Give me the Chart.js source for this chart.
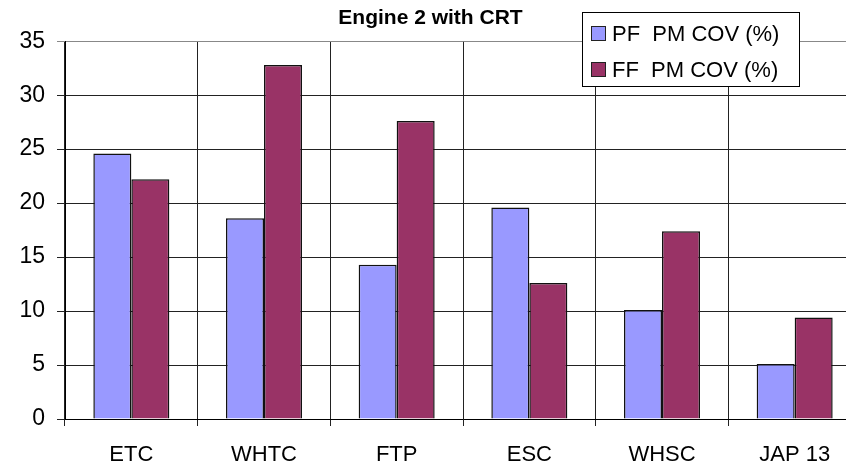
<!DOCTYPE html>
<html lang="en">
<head>
    <meta charset="UTF-8">
    <title>Engine 2 with CRT</title>
    <script src="https://cdn.jsdelivr.net/npm/chart.js"></script>
    <style>
        html, body { margin: 0; padding: 0; background: #fff; overflow: hidden; }
        #wrap { width: 878px; height: 470px; }
    </style>
</head>
<body>
    <div id="wrap">
        <canvas id="covChart" width="878" height="470"></canvas>
    </div>

    <script>
        // values
        const categories = ['ETC', 'WHTC', 'FTP', 'ESC', 'WHSC', 'JAP 13'];
        const pfCov = [24.6, 18.6, 14.3, 19.6, 10.1, 5.1];
        const ffCov = [22.2, 32.8, 27.6, 12.6, 17.4, 9.4];
        const seriesLabels = ['PF  PM COV (%)', 'FF  PM COV (%)'];
        const yMin = 0, yMax = 35, yStep = 5;

        const fontFamily = 'Arial, "Liberation Sans", Helvetica, sans-serif';

        // legend box sits on top of the plot, so draw it by hand
        const boxLegend = {
            id: 'boxLegend',
            afterDraw(chart) {
                const ctx = chart.ctx;
                ctx.save();
                ctx.fillStyle = '#fff';
                ctx.strokeStyle = '#000';
                ctx.lineWidth = 1;
                ctx.fillRect(582.5, 12.5, 217, 74);
                ctx.strokeRect(582.5, 12.5, 217, 74);
                ctx.font = '22px ' + fontFamily;
                ctx.textBaseline = 'middle';
                chart.data.datasets.forEach(function(ds, i) {
                    const cy = 33.5 + i * 36;
                    ctx.fillStyle = ds.backgroundColor;
                    ctx.fillRect(591.5, cy - 7, 14, 14);
                    ctx.strokeStyle = '#222';
                    ctx.strokeRect(591.5, cy - 7, 14, 14);
                    ctx.fillStyle = '#000';
                    ctx.fillText(ds.label, 612, cy + 1);
                });
                ctx.restore();
            }
        };

        const ctx = document.getElementById('covChart').getContext('2d');
        new Chart(ctx, {
            type: 'bar',
            data: {
                labels: categories,
                datasets: [{
                    label: seriesLabels[0],
                    data: pfCov,
                    backgroundColor: '#9999FF',
                    borderColor: '#111',
                    borderWidth: 1.5,
                    categoryPercentage: 0.573,
                    barPercentage: 1
                }, {
                    label: seriesLabels[1],
                    data: ffCov,
                    backgroundColor: '#993366',
                    borderColor: '#111',
                    borderWidth: 1.5,
                    categoryPercentage: 0.573,
                    barPercentage: 1
                }]
            },
            options: {
                responsive: false,
                animation: false,
                layout: { padding: { left: 0, right: 17, top: 0, bottom: 0 } },
                plugins: {
                    legend: { display: false },
                    tooltip: { enabled: false },
                    title: {
                        display: true,
                        text: 'Engine 2 with CRT',
                        color: '#000',
                        font: { family: fontFamily, size: 21, weight: 'bold', lineHeight: 1.2 },
                        padding: { top: 6, bottom: 10 }
                    }
                },
                scales: {
                    x: {
                        grid: {
                            color: '#222',
                            lineWidth: 1,
                            tickLength: 7,
                            offset: true
                        },
                        border: { color: '#000', width: 1 },
                        ticks: {
                            color: '#000',
                            padding: 16,
                            font: { family: fontFamily, size: 22 }
                        },
                        afterFit(scale) { scale.height = 51; }
                    },
                    y: {
                        min: yMin,
                        max: yMax,
                        grid: {
                            color: function(c) { return c.tick && c.tick.value === yMax ? '#888' : '#222'; },
                            lineWidth: 1,
                            tickLength: 8
                        },
                        border: { color: '#000', width: 1 },
                        ticks: {
                            stepSize: yStep,
                            color: '#000',
                            padding: 12,
                            font: { family: fontFamily, size: 23 }
                        },
                        afterFit(scale) { scale.width = 65; }
                    }
                }
            },
            plugins: [boxLegend]
        });
    </script>
</body>
</html>
